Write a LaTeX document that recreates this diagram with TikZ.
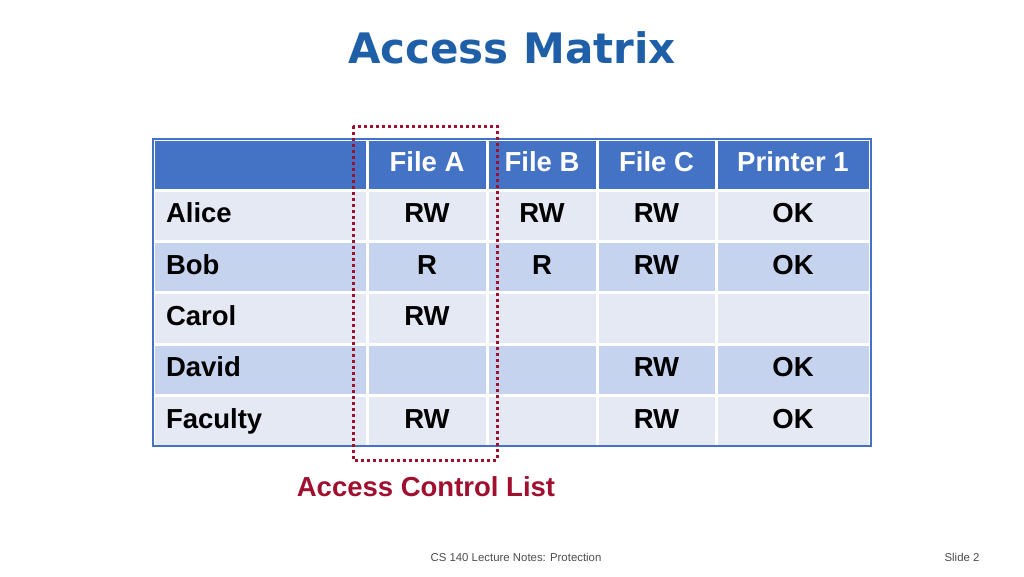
\documentclass[tikz,border=0pt]{standalone}
\usepackage{fontspec}
\setmainfont{Liberation Sans}
\newfontfamily\titlefont{DejaVu Sans}
\usetikzlibrary{positioning}
\definecolor{hdrblue}{HTML}{4472C4}
\definecolor{rowlight}{HTML}{E4E9F4}
\definecolor{rowdark}{HTML}{C5D3EF}
\definecolor{titleblue}{HTML}{1F5FA8}
\definecolor{aclred}{HTML}{A0102E}
\begin{document}
\begin{tikzpicture}[x=1pt,y=-1pt]
\tikzset{
  cell/.style={draw=white, line width=1.5pt, outer sep=0pt, minimum height=49.8pt, inner sep=0pt, text height=14pt, text depth=0pt, font=\fontsize{27.5}{27.5}\selectfont\bfseries},
  hdr/.style={cell, fill=hdrblue, text=white},
}
\useasboundingbox (0,0) rectangle (1024,576);
% title
\node (title) at (512,48) {\titlefont\fontsize{42}{42}\selectfont\bfseries\color{titleblue}Access Matrix};
% header row
\node [hdr, minimum width=212.5pt, anchor=north west] (h0) at (153.75,139.75) {};
\node [hdr, minimum width=118.5pt, right=1.5pt of h0] (h1) {File A};
\node [hdr, minimum width=108.5pt, right=1.5pt of h1] (h2) {File B};
\node [hdr, minimum width=117.5pt, right=1.5pt of h2] (h3) {File C};
\node [hdr, minimum width=152.5pt, right=1.5pt of h3] (h4) {Printer 1};
% body rows
\foreach \name/\a/\b/\c/\d [count=\i] in {Alice/RW/RW/RW/OK, Bob/R/R/RW/OK, Carol/RW/{}/{}/{}, David/{}/{}/RW/OK, Faculty/RW/{}/RW/OK} {
  \pgfmathsetmacro\rowy{139.75+51.3*\i}
  \ifodd\i \def\rowfill{rowlight}\else\def\rowfill{rowdark}\fi
  \node [cell, fill=\rowfill, minimum width=212.5pt, anchor=north west, text width=188pt, align=left] (r\i-0) at (153.75,\rowy) {\name};
  \node [cell, fill=\rowfill, minimum width=118.5pt, right=1.5pt of r\i-0] (r\i-1) {\a};
  \node [cell, fill=\rowfill, minimum width=108.5pt, right=1.5pt of r\i-1] (r\i-2) {\b};
  \node [cell, fill=\rowfill, minimum width=117.5pt, right=1.5pt of r\i-2] (r\i-3) {\c};
  \node [cell, fill=\rowfill, minimum width=152.5pt, right=1.5pt of r\i-3] (r\i-4) {\d};
}
% outer border
\draw [hdrblue, line width=1.5pt] (153,139) rectangle (871,446);
% access control list
\draw [aclred, line width=3pt, dash pattern=on 3pt off 3pt] (353,126) rectangle (497,460);
\node [text=aclred, font=\fontsize{27.5}{27.5}\selectfont\bfseries] (acl) at (426,487) {Access Control List};
% footer
\node [font=\fontsize{11.4}{11.4}\selectfont, text=black!70] (foot) at (516,557) {CS 140 Lecture Notes: Protection};
\node [font=\fontsize{11.4}{11.4}\selectfont, text=black!70] (slide) at (962,557) {Slide 2};
\end{tikzpicture}
\end{document}
